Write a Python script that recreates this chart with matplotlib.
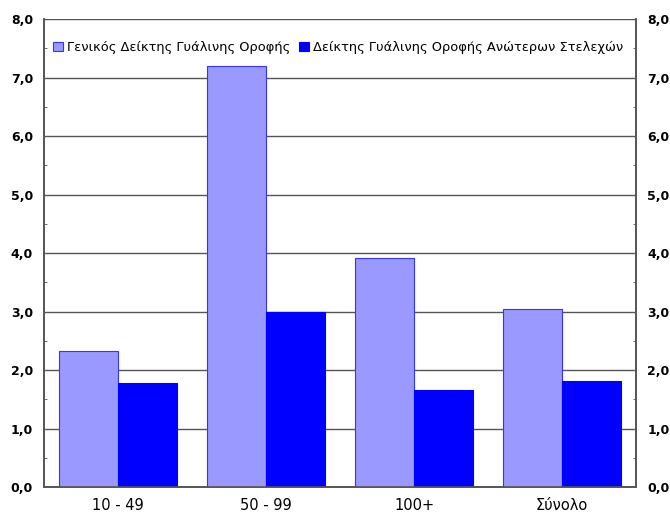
import matplotlib.pyplot as plt
import numpy as np
from matplotlib.ticker import MultipleLocator, FuncFormatter

categories = ["10 - 49", "50 - 99", "100+", "Σύνολο"]
general_idx = [2.33, 7.20, 3.92, 3.05]
senior_idx = [1.78, 3.00, 1.65, 1.81]
labels = ["Γενικός Δείκτης Γυάλινης Οροφής", "Δείκτης Γυάλινης Οροφής Ανώτερων Στελεχών"]

plt.rcParams['font.family'] = ['DejaVu Sans']

fig = plt.figure(figsize=(6.7, 5.14), dpi=100)
ax = fig.add_axes([0.0657, 0.0525, 0.8836, 0.9105])

x = np.arange(len(categories))
w = 0.4
ax.bar(x - w / 2, general_idx, w, color="#9999FF", edgecolor="#3333FF", linewidth=0.8,
       label=labels[0], zorder=3)
ax.bar(x + w / 2, senior_idx, w, color="#0000FF", edgecolor="#0000FF", linewidth=0.8,
       label=labels[1], zorder=3)

ax.set_xlim(-0.5, len(categories) - 0.5)
ax.set_ylim(0, 8)
ax.set_xticks(x)
ax.set_xticklabels(categories, fontsize=10.5)
ax.tick_params(axis="x", length=0, pad=8)

fmt = FuncFormatter(lambda v, p: f"{v:.1f}".replace(".", ","))
ax.yaxis.set_major_locator(MultipleLocator(1))
ax.yaxis.set_minor_locator(MultipleLocator(0.5))
ax.yaxis.set_major_formatter(fmt)
ax.tick_params(axis="y", which="major", length=0, pad=8, labelsize=9)
ax.tick_params(axis="y", which="minor", length=2.5, direction="in", color="#555555")
for t in ax.get_yticklabels():
    t.set_fontweight("bold")

ax.yaxis.grid(True, color="#555555", linewidth=1, zorder=0)

ax2 = ax.twinx()
ax2.set_ylim(0, 8)
ax2.yaxis.set_major_locator(MultipleLocator(1))
ax2.yaxis.set_minor_locator(MultipleLocator(0.5))
ax2.yaxis.set_major_formatter(fmt)
ax2.tick_params(axis="y", which="major", length=0, pad=8, labelsize=9)
ax2.tick_params(axis="y", which="minor", length=2.5, direction="in", color="#555555")
for t in ax2.get_yticklabels():
    t.set_fontweight("bold")

for a in (ax, ax2):
    a.spines["top"].set_visible(False)
    for s in ("left", "right", "bottom"):
        a.spines[s].set_color("#555555")
        a.spines[s].set_linewidth(1.2)

leg = ax.legend(loc="upper left", bbox_to_anchor=(0.0, 0.972), ncol=2, frameon=False,
                fontsize=9.4, handlelength=0.75, handleheight=0.75, handletextpad=0.3,
                columnspacing=0.7, borderaxespad=0.3)

fig.savefig("out.png", dpi=100)
